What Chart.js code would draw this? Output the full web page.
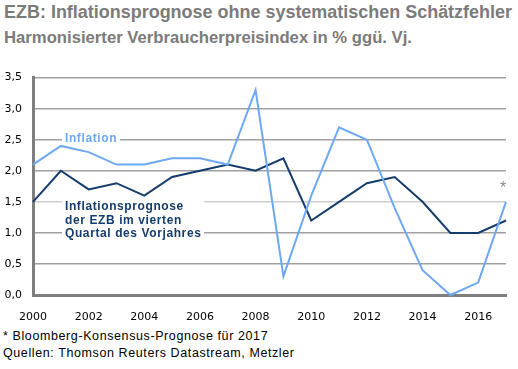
<!DOCTYPE html>
<html>
<head>
<meta charset="utf-8">
<script src="https://cdn.jsdelivr.net/npm/chart.js@4"></script>
<style>
    body { margin: 0; width: 518px; height: 369px; background: #fff; position: relative; overflow: hidden; }
    .head { position: absolute; left: 4px; font-family: "Liberation Sans", Arial, sans-serif; font-weight: bold; color: #7b7b7b; white-space: nowrap; transform-origin: 0 0; }
    .title { top: 2px; font-size: 18px; }
    .subtitle { top: 28px; font-size: 16.5px; }
    .note { position: absolute; left: 3px; font: 12.5px "Liberation Sans", Arial, sans-serif; letter-spacing: 0.6px; color: #000; white-space: nowrap; }
    #wrap { position: absolute; left: 0; top: 60px; width: 518px; height: 262px; }
</style>
</head>
<body>
<div class="head title" id="title">EZB: Inflationsprognose ohne systematischen Schätzfehler</div>
<div class="head subtitle" id="subtitle">Harmonisierter Verbraucherpreisindex in % ggü. Vj.</div>
<div id="wrap"><canvas id="chart"></canvas></div>
<div class="note" style="top:329px">* Bloomberg-Konsensus-Prognose für 2017</div>
<div class="note" style="top:346px">Quellen: Thomson Reuters Datastream, Metzler</div>
<script>
'use strict';

// Jahre (x-Achse)
const years = ['2000', '2001', '2002', '2003', '2004', '2005', '2006', '2007', '2008',
    '2009', '2010', '2011', '2012', '2013', '2014', '2015', '2016', '2017'];

// HVPI-Inflation in %
const inflation = [2.1, 2.4, 2.3, 2.1, 2.1, 2.2, 2.2, 2.1, 3.3,
    0.3, 1.6, 2.7, 2.5, 1.4, 0.4, 0.0, 0.2, 1.5];

// EZB-Prognose aus dem 4. Quartal des Vorjahres
const forecast = [1.5, 2.0, 1.7, 1.8, 1.6, 1.9, 2.0, 2.1, 2.0,
    2.2, 1.2, 1.5, 1.8, 1.9, 1.5, 1.0, 1.0, 1.2];

// Beschriftungen im Diagramm
const inflationLabel = ['Inflation'];
const forecastLabel = ['Inflationsprognose', 'der EZB im vierten', 'Quartal des Vorjahres'];

const lightBlue = '#6ea8f2';
const darkBlue = '#143c6c';

// Überschriften schmal stauchen (keine Narrow-Schrift vorhanden)
function squeeze(id, targetWidth) {
    const el = document.getElementById(id);
    const w = el.getBoundingClientRect().width;
    el.style.transform = `scaleX(${targetWidth / w})`;
}
squeeze('title', 508);
squeeze('subtitle', 408);

// Beschriftungen mit weißem Hintergrund (unterbrechen die Gitterlinien)
const labelPlugin = {
    id: 'seriesLabels',
    beforeDatasetsDraw: (chart) => {
        const ctx = chart.ctx;
        const x = chart.scales.x;
        const y = chart.scales.y;
        ctx.save();
        ctx.font = 'bold 12px "Liberation Sans", Arial, sans-serif';
        ctx.letterSpacing = '0.6px';
        ctx.textBaseline = 'middle';

        // Inflation
        const ix = x.getPixelForValue(0) + 32;
        const iy = y.getPixelForValue(2.5) - 1;
        ctx.fillStyle = '#fff';
        ctx.fillRect(ix - 3, iy - 8, ctx.measureText(inflationLabel[0]).width + 6, 14);
        ctx.fillStyle = lightBlue;
        ctx.fillText(inflationLabel[0], ix, iy);

        // Prognose
        const fx = x.getPixelForValue(0) + 32;
        const fy = y.getPixelForValue(1.42);
        ctx.fillStyle = '#fff';
        ctx.fillRect(fx - 3, fy - 9, 142, 38);
        ctx.fillStyle = darkBlue;
        forecastLabel.forEach((line, i) => ctx.fillText(line, fx, fy + i * 13.5));

        // Stern für 2017
        ctx.fillStyle = '#8a8a8a';
        ctx.letterSpacing = '0px';
        ctx.font = '16px "Liberation Sans", Arial, sans-serif';
        ctx.textAlign = 'center';
        ctx.fillText('*', x.getPixelForValue(17) - 3, y.getPixelForValue(1.72));
        ctx.restore();
    }
};

const ctx = document.getElementById('chart').getContext('2d');
new Chart(ctx, {
    type: 'line',
    data: {
        labels: years,
        datasets: [{
            data: inflation,
            borderColor: lightBlue,
            borderWidth: 2,
            pointRadius: 0,
            tension: 0,
            clip: false
        }, {
            data: forecast,
            borderColor: darkBlue,
            borderWidth: 2,
            pointRadius: 0,
            tension: 0,
            clip: false
        }]
    },
    options: {
        responsive: true,
        maintainAspectRatio: false,
        animation: false,
        layout: {
            padding: { top: 16, right: 12, left: 0, bottom: 0 }
        },
        scales: {
            x: {
                offset: false,
                grid: { display: false },
                border: { display: true, color: '#7f7f7f', width: 3 },
                ticks: {
                    color: '#000',
                    autoSkip: false,
                    maxRotation: 0,
                    padding: 8,
                    font: { family: '"DejaVu Sans", sans-serif', size: 11 },
                    callback: function (value, index) {
                        return index % 2 === 0 ? years[index] : '';
                    }
                },
                afterFit: (scale) => { scale.height = 27; }
            },
            y: {
                min: 0,
                max: 3.5,
                grid: {
                    drawTicks: false,
                    lineWidth: 1.5,
                    color: (c) => c.tick && c.tick.value === 1.5 ? '#cfcfcf' : '#a0a0a0'
                },
                border: { display: true, color: '#7f7f7f', width: 3 },
                ticks: {
                    stepSize: 0.5,
                    color: '#000',
                    padding: 11,
                    font: { family: '"DejaVu Sans", sans-serif', size: 11 },
                    callback: function (value) {
                        return value.toFixed(1).replace('.', ',');
                    }
                },
                afterFit: (scale) => { scale.width = 33; }
            }
        },
        plugins: {
            legend: { display: false },
            tooltip: { enabled: false }
        }
    },
    plugins: [labelPlugin]
});
</script>
</body>
</html>
